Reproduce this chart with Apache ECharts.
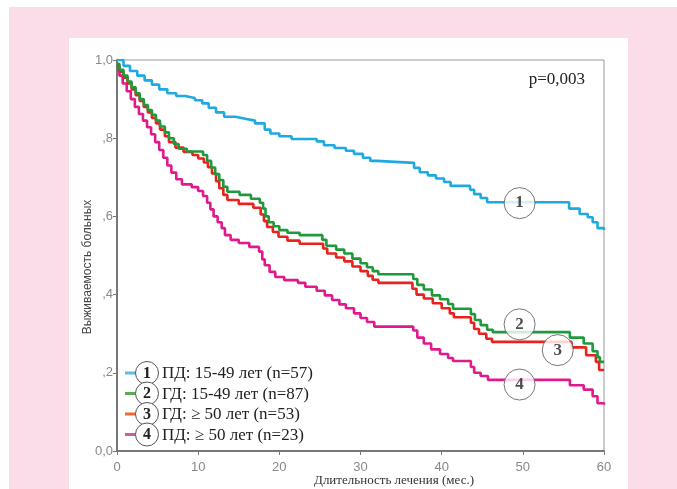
<!DOCTYPE html>
<html>
<head>
<meta charset="utf-8">
<script src="https://cdn.jsdelivr.net/npm/echarts@6/dist/echarts.min.js"></script>
<style>
html,body{margin:0;padding:0;background:#fff;}
#chart{width:677px;height:489px;}
</style>
</head>
<body>
<div id="chart"></div>
<script>
// ---- data ----
var xTicks = [0, 10, 20, 30, 40, 50, 60];
var yTickLabels = {0: '0,0', 0.2: ',2', 0.4: ',4', 0.6: ',6', 0.8: ',8', 1: '1,0'};

var seriesNames = ['ПД: 15-49 лет (n=57)', 'ГД: 15-49 лет (n=87)', 'ГД: \u2265 50 лет (n=53)', 'ПД: \u2265 50 лет (n=23)'];
var seriesColors = ['#1ea9e1', '#1e9a3c', '#e8231e', '#e0198c'];
var legendColors = ['#5bbde4', '#5aaa5a', '#ee6a2e', '#c0649a'];

var curve1 = [[0,1],[0.8,.985],[1.6,.972],[2.5,.96],[3.4,.948],[4.3,.937],[5.2,.925],[6.2,.915],[7.3,.908],[8.4,.903],[9.6,.897],[10.5,.889],[11.3,.878],[12.2,.866],[13.2,.855],[14.6,.850],[15.8,.845],[17.0,.838],[18.2,.822],[18.9,.812],[20.0,.805],[21.5,.798],[24.6,.792],[25.5,.782],[26.8,.775],[28.2,.768],[29.2,.760],[30.3,.750],[31.2,.742],[32.0,.737],[36.6,.724],[37.3,.713],[38.3,.705],[39.3,.697],[40.3,.688],[41.1,.678],[43.5,.668],[44.0,.657],[44.8,.647],[45.6,.636],[55.7,.620],[57.0,.606],[58.0,.598],[58.6,.585],[59.2,.570],[60,.565]];

var curve2 = [[0,.99],[0.3,.975],[0.8,.96],[1.3,.945],[1.8,.93],[2.3,.915],[2.8,.9],[3.3,.885],[3.8,.872],[4.3,.86],[4.8,.845],[5.3,.83],[5.9,.815],[6.4,.8],[7,.785],[7.6,.773],[8.6,.766],[10.6,.757],[11.1,.742],[11.6,.725],[12.1,.708],[12.6,.693],[13.1,.676],[13.6,.663],[15.1,.655],[16.5,.645],[17.6,.635],[18.0,.62],[18.3,.6],[18.7,.585],[19.3,.575],[20.0,.565],[21.0,.558],[22.5,.552],[25.3,.54],[25.8,.525],[27.0,.515],[28.0,.505],[29.0,.492],[30.0,.48],[30.8,.47],[31.5,.46],[32.2,.452],[36.5,.44],[37.0,.425],[37.8,.413],[38.8,.398],[39.8,.388],[40.8,.376],[41.4,.364],[43.6,.35],[44.1,.335],[44.8,.322],[45.6,.31],[46.3,.304],[55.8,.29],[57.5,.275],[58.6,.255],[59.2,.24],[59.5,.228],[60,.228]];

var curve3 = [[0,.985],[0.3,.97],[0.8,.955],[1.3,.94],[1.8,.925],[2.3,.91],[2.8,.895],[3.3,.88],[3.8,.866],[4.3,.852],[4.8,.838],[5.3,.822],[5.9,.805],[6.4,.79],[7.2,.776],[8.2,.765],[9.3,.757],[10.0,.748],[10.7,.738],[11.2,.726],[11.7,.71],[12.2,.69],[12.6,.672],[13.1,.655],[13.6,.642],[15.0,.632],[16.8,.622],[17.7,.605],[18.1,.588],[18.5,.573],[19.2,.56],[19.9,.548],[21.0,.538],[22.5,.53],[25.4,.518],[25.9,.505],[27.0,.495],[28.0,.485],[29.0,.472],[30.0,.46],[30.9,.448],[31.5,.438],[32.2,.43],[36.4,.415],[36.9,.4],[37.8,.39],[38.9,.378],[40.0,.365],[41.0,.352],[41.5,.342],[43.6,.328],[44.0,.312],[44.6,.3],[45.5,.287],[46.2,.279],[56.0,.265],[57.8,.245],[59.0,.228],[59.4,.207],[60,.207]];

var curve4 = [[0,.975],[0.3,.96],[0.7,.94],[1.2,.92],[1.7,.9],[2.2,.88],[2.7,.862],[3.2,.845],[3.7,.828],[4.2,.81],[4.7,.79],[5.2,.77],[5.7,.75],[6.2,.73],[6.7,.712],[7.3,.695],[8.0,.682],[9.2,.675],[10.0,.665],[10.6,.652],[11.1,.635],[11.5,.618],[11.9,.6],[12.4,.585],[12.9,.57],[13.3,.552],[14.0,.54],[15.0,.532],[16.3,.522],[17.5,.51],[17.9,.49],[18.2,.475],[18.8,.458],[19.5,.445],[20.6,.437],[22.3,.43],[23.2,.42],[24.6,.41],[25.6,.398],[26.5,.386],[27.4,.375],[28.2,.365],[29.2,.352],[30.0,.34],[30.8,.33],[31.7,.318],[36.5,.308],[37.0,.29],[37.8,.275],[38.7,.26],[39.8,.248],[40.8,.238],[41.4,.23],[43.6,.215],[44.0,.2],[44.8,.192],[45.7,.182],[55.8,.168],[57.5,.157],[58.6,.14],[59.2,.122],[60,.118]];

var curveLabels = [[49.6, 0.634, '1'], [49.6, 0.324, '2'], [54.3, 0.258, '3'], [49.6, 0.17, '4']];
var pText = 'p=0,003';
var xTitle = 'Длительность лечения (мес.)';
var yTitle = 'Выживаемость больных';

// ---- chart ----
var chart = echarts.init(document.getElementById('chart'), null, {renderer: 'canvas'});
var curves = [curve1, curve2, curve3, curve4];

var series = curves.map(function (c, i) {
  return {
    name: seriesNames[i],
    type: 'line',
    step: 'end',
    data: c,
    symbol: 'none',
    lineStyle: {color: seriesColors[i], width: 2.6},
    z: 3 + (3 - i),
    silent: true
  };
});
series.push({
  type: 'scatter',
  data: curveLabels.map(function (d) { return [d[0], d[1], d[2]]; }),
  symbol: 'circle',
  symbolSize: 31,
  itemStyle: {color: '#fff', borderColor: '#555', borderWidth: 1},
  label: {
    show: true, position: 'inside',
    formatter: function (p) { return p.value[2]; },
    fontFamily: 'Liberation Serif', fontWeight: 'bold', fontSize: 17, color: '#222'
  },
  z: 10,
  silent: true
});

var legendEls = [];
var legendTop = 373, legendStep = 20.5;
seriesNames.forEach(function (n, i) {
  var cy = legendTop + i * legendStep;
  legendEls.push({type: 'line', shape: {x1: 125, y1: cy, x2: 136, y2: cy}, style: {stroke: legendColors[i], lineWidth: 3}, z: 20});
  legendEls.push({type: 'circle', shape: {cx: 147, cy: cy, r: 11.5}, style: {fill: '#fff', stroke: '#555', lineWidth: 1}, z: 20});
  legendEls.push({type: 'text', x: 147, y: cy + 0.5, style: {text: String(i + 1), font: 'bold 16px "Liberation Serif"', fill: '#222', align: 'center', verticalAlign: 'middle'}, z: 21});
  legendEls.push({type: 'text', x: 162, y: cy + 1, style: {text: n, font: '17px "Liberation Serif"', fill: '#222', align: 'left', verticalAlign: 'middle'}, z: 21});
});

var option = {
  backgroundColor: '#ffffff',
  animation: false,
  grid: {left: 117, top: 60, width: 487, height: 391, show: true, borderColor: '#999', borderWidth: 1, backgroundColor: 'transparent'},
  xAxis: {
    type: 'value', min: 0, max: 60, interval: 10,
    axisLine: {lineStyle: {color: '#777', width: 2}},
    axisTick: {show: true, length: 4, lineStyle: {color: '#777'}},
    axisLabel: {color: '#888', fontFamily: 'Liberation Sans', fontSize: 13, margin: 10,
      formatter: function (v) { return xTicks.indexOf(v) >= 0 ? String(v) : ''; }},
    splitLine: {show: false}
  },
  yAxis: {
    type: 'value', min: 0, max: 1, interval: 0.2,
    axisLine: {lineStyle: {color: '#777', width: 2}},
    axisTick: {show: true, length: 4, lineStyle: {color: '#777'}},
    axisLabel: {color: '#888', fontFamily: 'Liberation Sans', fontSize: 13, margin: 4,
      formatter: function (v) { var k = Math.round(v * 10) / 10; return yTickLabels[k] !== undefined ? yTickLabels[k] : ''; }},
    splitLine: {show: false}
  },
  graphic: [
    {type: 'rect', shape: {x: 9, y: 7, width: 668, height: 482}, style: {fill: '#fbdde9'}, z: -100, silent: true},
    {type: 'rect', shape: {x: 69, y: 38, width: 559, height: 451}, style: {fill: '#ffffff'}, z: -99, silent: true},
    {type: 'text', x: 585, y: 80, style: {text: pText, font: '17px "Liberation Serif"', fill: '#222', align: 'right', verticalAlign: 'middle'}, z: 20},
    {type: 'text', x: 394, y: 481, style: {text: xTitle, font: '13px "Liberation Serif"', fill: '#333', align: 'center', verticalAlign: 'middle'}, z: 20},
    {type: 'text', x: 88, y: 267, rotation: Math.PI / 2, style: {text: yTitle, font: '12px "Liberation Sans"', fill: '#444', align: 'center', verticalAlign: 'middle'}, z: 20}
  ].concat(legendEls),
  series: series
};
chart.setOption(option);
</script>
</body>
</html>
